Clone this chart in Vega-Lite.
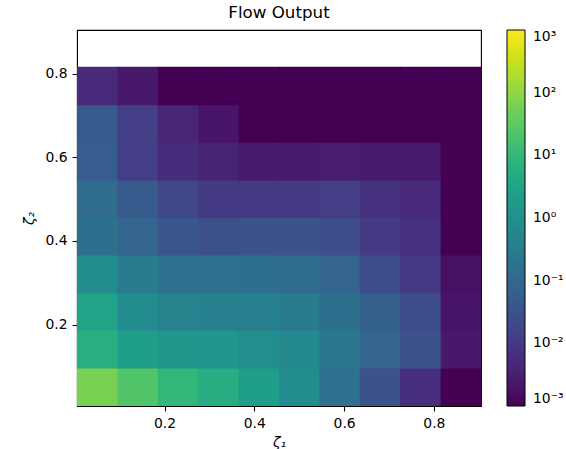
{
  "$schema": "https://vega.github.io/schema/vega-lite/v6.json",
  "width": 404,
  "height": 376,
  "autosize": {"type": "none"},
  "padding": {"left": 77, "top": 30, "right": 85, "bottom": 43},
  "background": "white",
  "title": {
    "text": "Flow Output",
    "font": "DejaVu Sans",
    "fontSize": 16.7,
    "fontWeight": "normal",
    "color": "black",
    "anchor": "middle",
    "offset": 8
  },
  "data": {
    "values": [
      {"z1_lo": 0.005, "z1_hi": 0.095, "z2_lo": 0.005, "z2_hi": 0.095, "flow": 63},
      {"z1_lo": 0.095, "z1_hi": 0.185, "z2_lo": 0.005, "z2_hi": 0.095, "flow": 24},
      {"z1_lo": 0.185, "z1_hi": 0.275, "z2_lo": 0.005, "z2_hi": 0.095, "flow": 9.1},
      {"z1_lo": 0.275, "z1_hi": 0.365, "z2_lo": 0.005, "z2_hi": 0.095, "flow": 5.2},
      {"z1_lo": 0.365, "z1_hi": 0.455, "z2_lo": 0.005, "z2_hi": 0.095, "flow": 2.3},
      {"z1_lo": 0.455, "z1_hi": 0.545, "z2_lo": 0.005, "z2_hi": 0.095, "flow": 0.76},
      {"z1_lo": 0.545, "z1_hi": 0.635, "z2_lo": 0.005, "z2_hi": 0.095, "flow": 0.17},
      {"z1_lo": 0.635, "z1_hi": 0.725, "z2_lo": 0.005, "z2_hi": 0.095, "flow": 0.032},
      {"z1_lo": 0.725, "z1_hi": 0.815, "z2_lo": 0.005, "z2_hi": 0.095, "flow": 0.006},
      {"z1_lo": 0.815, "z1_hi": 0.905, "z2_lo": 0.005, "z2_hi": 0.095, "flow": 0.001},

      {"z1_lo": 0.005, "z1_hi": 0.095, "z2_lo": 0.095, "z2_hi": 0.185, "flow": 6.0},
      {"z1_lo": 0.095, "z1_hi": 0.185, "z2_lo": 0.095, "z2_hi": 0.185, "flow": 2.3},
      {"z1_lo": 0.185, "z1_hi": 0.275, "z2_lo": 0.095, "z2_hi": 0.185, "flow": 1.5},
      {"z1_lo": 0.275, "z1_hi": 0.365, "z2_lo": 0.095, "z2_hi": 0.185, "flow": 1.4},
      {"z1_lo": 0.365, "z1_hi": 0.455, "z2_lo": 0.095, "z2_hi": 0.185, "flow": 0.87},
      {"z1_lo": 0.455, "z1_hi": 0.545, "z2_lo": 0.095, "z2_hi": 0.185, "flow": 0.66},
      {"z1_lo": 0.545, "z1_hi": 0.635, "z2_lo": 0.095, "z2_hi": 0.185, "flow": 0.25},
      {"z1_lo": 0.635, "z1_hi": 0.725, "z2_lo": 0.095, "z2_hi": 0.185, "flow": 0.083},
      {"z1_lo": 0.725, "z1_hi": 0.815, "z2_lo": 0.095, "z2_hi": 0.185, "flow": 0.032},
      {"z1_lo": 0.815, "z1_hi": 0.905, "z2_lo": 0.095, "z2_hi": 0.185, "flow": 0.0023},

      {"z1_lo": 0.005, "z1_hi": 0.095, "z2_lo": 0.185, "z2_hi": 0.275, "flow": 3.0},
      {"z1_lo": 0.095, "z1_hi": 0.185, "z2_lo": 0.185, "z2_hi": 0.275, "flow": 0.76},
      {"z1_lo": 0.185, "z1_hi": 0.275, "z2_lo": 0.185, "z2_hi": 0.275, "flow": 0.44},
      {"z1_lo": 0.275, "z1_hi": 0.365, "z2_lo": 0.185, "z2_hi": 0.275, "flow": 0.38},
      {"z1_lo": 0.365, "z1_hi": 0.455, "z2_lo": 0.185, "z2_hi": 0.275, "flow": 0.38},
      {"z1_lo": 0.455, "z1_hi": 0.545, "z2_lo": 0.185, "z2_hi": 0.275, "flow": 0.29},
      {"z1_lo": 0.545, "z1_hi": 0.635, "z2_lo": 0.185, "z2_hi": 0.275, "flow": 0.16},
      {"z1_lo": 0.635, "z1_hi": 0.725, "z2_lo": 0.185, "z2_hi": 0.275, "flow": 0.063},
      {"z1_lo": 0.725, "z1_hi": 0.815, "z2_lo": 0.185, "z2_hi": 0.275, "flow": 0.024},
      {"z1_lo": 0.815, "z1_hi": 0.905, "z2_lo": 0.185, "z2_hi": 0.275, "flow": 0.002},

      {"z1_lo": 0.005, "z1_hi": 0.095, "z2_lo": 0.275, "z2_hi": 0.365, "flow": 0.76},
      {"z1_lo": 0.095, "z1_hi": 0.185, "z2_lo": 0.275, "z2_hi": 0.365, "flow": 0.29},
      {"z1_lo": 0.185, "z1_hi": 0.275, "z2_lo": 0.275, "z2_hi": 0.365, "flow": 0.18},
      {"z1_lo": 0.275, "z1_hi": 0.365, "z2_lo": 0.275, "z2_hi": 0.365, "flow": 0.166},
      {"z1_lo": 0.365, "z1_hi": 0.455, "z2_lo": 0.275, "z2_hi": 0.365, "flow": 0.145},
      {"z1_lo": 0.455, "z1_hi": 0.545, "z2_lo": 0.275, "z2_hi": 0.365, "flow": 0.126},
      {"z1_lo": 0.545, "z1_hi": 0.635, "z2_lo": 0.275, "z2_hi": 0.365, "flow": 0.083},
      {"z1_lo": 0.635, "z1_hi": 0.725, "z2_lo": 0.275, "z2_hi": 0.365, "flow": 0.024},
      {"z1_lo": 0.725, "z1_hi": 0.815, "z2_lo": 0.275, "z2_hi": 0.365, "flow": 0.0091},
      {"z1_lo": 0.815, "z1_hi": 0.905, "z2_lo": 0.275, "z2_hi": 0.365, "flow": 0.0017},

      {"z1_lo": 0.005, "z1_hi": 0.095, "z2_lo": 0.365, "z2_hi": 0.455, "flow": 0.155},
      {"z1_lo": 0.095, "z1_hi": 0.185, "z2_lo": 0.365, "z2_hi": 0.455, "flow": 0.083},
      {"z1_lo": 0.185, "z1_hi": 0.275, "z2_lo": 0.365, "z2_hi": 0.455, "flow": 0.036},
      {"z1_lo": 0.275, "z1_hi": 0.365, "z2_lo": 0.365, "z2_hi": 0.455, "flow": 0.028},
      {"z1_lo": 0.365, "z1_hi": 0.455, "z2_lo": 0.365, "z2_hi": 0.455, "flow": 0.032},
      {"z1_lo": 0.455, "z1_hi": 0.545, "z2_lo": 0.365, "z2_hi": 0.455, "flow": 0.032},
      {"z1_lo": 0.545, "z1_hi": 0.635, "z2_lo": 0.365, "z2_hi": 0.455, "flow": 0.026},
      {"z1_lo": 0.635, "z1_hi": 0.725, "z2_lo": 0.365, "z2_hi": 0.455, "flow": 0.01},
      {"z1_lo": 0.725, "z1_hi": 0.815, "z2_lo": 0.365, "z2_hi": 0.455, "flow": 0.0069},
      {"z1_lo": 0.815, "z1_hi": 0.905, "z2_lo": 0.365, "z2_hi": 0.455, "flow": 0.001},

      {"z1_lo": 0.005, "z1_hi": 0.095, "z2_lo": 0.455, "z2_hi": 0.545, "flow": 0.126},
      {"z1_lo": 0.095, "z1_hi": 0.185, "z2_lo": 0.455, "z2_hi": 0.545, "flow": 0.048},
      {"z1_lo": 0.185, "z1_hi": 0.275, "z2_lo": 0.455, "z2_hi": 0.545, "flow": 0.018},
      {"z1_lo": 0.275, "z1_hi": 0.365, "z2_lo": 0.455, "z2_hi": 0.545, "flow": 0.01},
      {"z1_lo": 0.365, "z1_hi": 0.455, "z2_lo": 0.455, "z2_hi": 0.545, "flow": 0.01},
      {"z1_lo": 0.455, "z1_hi": 0.545, "z2_lo": 0.455, "z2_hi": 0.545, "flow": 0.01},
      {"z1_lo": 0.545, "z1_hi": 0.635, "z2_lo": 0.455, "z2_hi": 0.545, "flow": 0.012},
      {"z1_lo": 0.635, "z1_hi": 0.725, "z2_lo": 0.455, "z2_hi": 0.545, "flow": 0.0069},
      {"z1_lo": 0.725, "z1_hi": 0.815, "z2_lo": 0.455, "z2_hi": 0.545, "flow": 0.0052},
      {"z1_lo": 0.815, "z1_hi": 0.905, "z2_lo": 0.455, "z2_hi": 0.545, "flow": 0.001},

      {"z1_lo": 0.005, "z1_hi": 0.095, "z2_lo": 0.545, "z2_hi": 0.635, "flow": 0.055},
      {"z1_lo": 0.095, "z1_hi": 0.185, "z2_lo": 0.545, "z2_hi": 0.635, "flow": 0.012},
      {"z1_lo": 0.185, "z1_hi": 0.275, "z2_lo": 0.545, "z2_hi": 0.635, "flow": 0.0056},
      {"z1_lo": 0.275, "z1_hi": 0.365, "z2_lo": 0.545, "z2_hi": 0.635, "flow": 0.0037},
      {"z1_lo": 0.365, "z1_hi": 0.455, "z2_lo": 0.545, "z2_hi": 0.635, "flow": 0.0026},
      {"z1_lo": 0.455, "z1_hi": 0.545, "z2_lo": 0.545, "z2_hi": 0.635, "flow": 0.0026},
      {"z1_lo": 0.545, "z1_hi": 0.635, "z2_lo": 0.545, "z2_hi": 0.635, "flow": 0.0028},
      {"z1_lo": 0.635, "z1_hi": 0.725, "z2_lo": 0.545, "z2_hi": 0.635, "flow": 0.0025},
      {"z1_lo": 0.725, "z1_hi": 0.815, "z2_lo": 0.545, "z2_hi": 0.635, "flow": 0.0025},
      {"z1_lo": 0.815, "z1_hi": 0.905, "z2_lo": 0.545, "z2_hi": 0.635, "flow": 0.001},

      {"z1_lo": 0.005, "z1_hi": 0.095, "z2_lo": 0.635, "z2_hi": 0.725, "flow": 0.048},
      {"z1_lo": 0.095, "z1_hi": 0.185, "z2_lo": 0.635, "z2_hi": 0.725, "flow": 0.012},
      {"z1_lo": 0.185, "z1_hi": 0.275, "z2_lo": 0.635, "z2_hi": 0.725, "flow": 0.004},
      {"z1_lo": 0.275, "z1_hi": 0.365, "z2_lo": 0.635, "z2_hi": 0.725, "flow": 0.0021},
      {"z1_lo": 0.365, "z1_hi": 0.455, "z2_lo": 0.635, "z2_hi": 0.725, "flow": 0.001},
      {"z1_lo": 0.455, "z1_hi": 0.545, "z2_lo": 0.635, "z2_hi": 0.725, "flow": 0.001},
      {"z1_lo": 0.545, "z1_hi": 0.635, "z2_lo": 0.635, "z2_hi": 0.725, "flow": 0.001},
      {"z1_lo": 0.635, "z1_hi": 0.725, "z2_lo": 0.635, "z2_hi": 0.725, "flow": 0.001},
      {"z1_lo": 0.725, "z1_hi": 0.815, "z2_lo": 0.635, "z2_hi": 0.725, "flow": 0.001},
      {"z1_lo": 0.815, "z1_hi": 0.905, "z2_lo": 0.635, "z2_hi": 0.725, "flow": 0.001},

      {"z1_lo": 0.005, "z1_hi": 0.095, "z2_lo": 0.725, "z2_hi": 0.815, "flow": 0.0052},
      {"z1_lo": 0.095, "z1_hi": 0.185, "z2_lo": 0.725, "z2_hi": 0.815, "flow": 0.0023},
      {"z1_lo": 0.185, "z1_hi": 0.275, "z2_lo": 0.725, "z2_hi": 0.815, "flow": 0.001},
      {"z1_lo": 0.275, "z1_hi": 0.365, "z2_lo": 0.725, "z2_hi": 0.815, "flow": 0.001},
      {"z1_lo": 0.365, "z1_hi": 0.455, "z2_lo": 0.725, "z2_hi": 0.815, "flow": 0.001},
      {"z1_lo": 0.455, "z1_hi": 0.545, "z2_lo": 0.725, "z2_hi": 0.815, "flow": 0.001},
      {"z1_lo": 0.545, "z1_hi": 0.635, "z2_lo": 0.725, "z2_hi": 0.815, "flow": 0.001},
      {"z1_lo": 0.635, "z1_hi": 0.725, "z2_lo": 0.725, "z2_hi": 0.815, "flow": 0.001},
      {"z1_lo": 0.725, "z1_hi": 0.815, "z2_lo": 0.725, "z2_hi": 0.815, "flow": 0.001},
      {"z1_lo": 0.815, "z1_hi": 0.905, "z2_lo": 0.725, "z2_hi": 0.815, "flow": 0.001}
    ]
  },
  "mark": {"type": "rect", "x2Offset": 0.8, "y2Offset": -0.8, "clip": true},
  "encoding": {
    "x": {
      "field": "z1_lo",
      "type": "quantitative",
      "scale": {"domain": [0.005, 0.905], "nice": false, "zero": false},
      "axis": {"values": [0.2, 0.4, 0.6, 0.8], "format": ".1f", "title": "ζ₁", "titlePadding": 6}
    },
    "x2": {"field": "z1_hi"},
    "y": {
      "field": "z2_lo",
      "type": "quantitative",
      "scale": {"domain": [0.005, 0.905], "nice": false, "zero": false},
      "axis": {"values": [0.2, 0.4, 0.6, 0.8], "format": ".1f", "title": "ζ₂", "titlePadding": 8}
    },
    "y2": {"field": "z2_hi"},
    "color": {
      "field": "flow",
      "type": "quantitative",
      "scale": {"type": "log", "domain": [0.001, 1000], "scheme": "viridis", "clamp": true},
      "legend": {
        "title": null,
        "type": "gradient",
        "orient": "none",
        "legendX": 430,
        "legendY": 0,
        "direction": "vertical",
        "gradientLength": 376,
        "gradientThickness": 18,
        "gradientStrokeColor": "black",
        "gradientStrokeWidth": 1,
        "values": [0.001, 0.01, 0.1, 1, 10, 100, 1000],
        "labelExpr": "datum.value < 0.005 ? '10⁻³' : datum.value < 0.05 ? '10⁻²' : datum.value < 0.5 ? '10⁻¹' : datum.value < 5 ? '10⁰' : datum.value < 50 ? '10¹' : datum.value < 500 ? '10²' : '10³'",
        "labelFont": "DejaVu Sans",
        "labelFontSize": 13.9,
        "labelColor": "black",
        "labelOffset": 8,
        "labelBaseline": "middle",
        "labelOverlap": false
      }
    }
  },
  "config": {
    "view": {"stroke": "black", "strokeWidth": 1.1},
    "axis": {
      "domain": false,
      "grid": false,
      "ticks": true,
      "tickColor": "black",
      "tickSize": 5,
      "tickWidth": 1.1,
      "labelFont": "DejaVu Sans",
      "labelFontSize": 13.9,
      "labelColor": "black",
      "labelPadding": 5,
      "titleFont": "DejaVu Sans",
      "titleFontSize": 13.9,
      "titleFontWeight": "normal",
      "titleFontStyle": "italic",
      "titleColor": "black"
    }
  }
}
